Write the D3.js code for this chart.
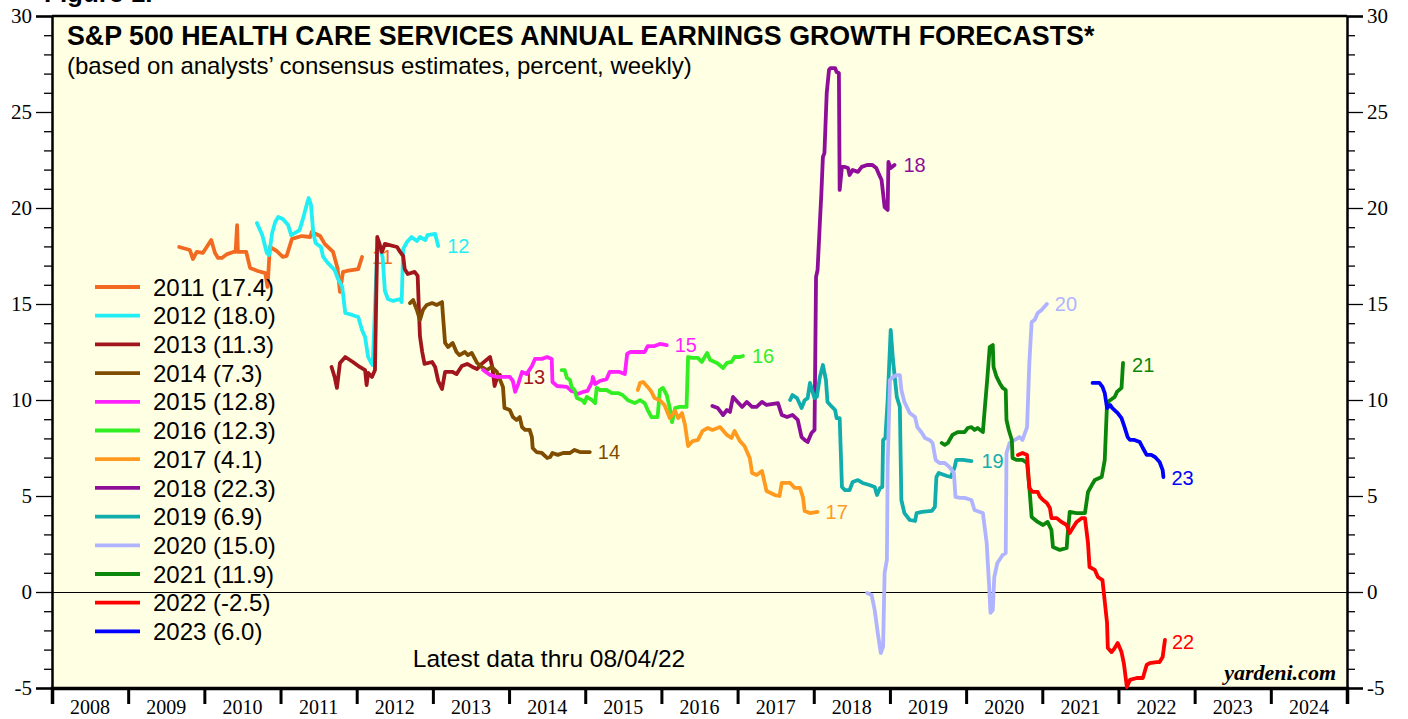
<!DOCTYPE html>
<html>
<head>
<meta charset="utf-8">
<script src="https://cdn.jsdelivr.net/npm/d3@7"></script>
<style>
  body { margin: 0; background: #fff; }
  svg { display: block; }
</style>
</head>
<body>
<svg id="chart" width="1408" height="719"></svg>
<script>
// forecast year of each series, in drawing order
var forecastYears = [2011, 2012, 2013, 2014, 2015, 2016, 2017, 2018, 2019, 2020, 2021, 2022, 2023];
var latestValues = [17.4, 18.0, 11.3, 7.3, 12.8, 12.3, 4.1, 22.3, 6.9, 15.0, 11.9, -2.5, 6.0];
var yearTicks = d3.range(2008, 2025);

// weekly consensus series, [date as decimal year, percent]
var f2011 = [[2009.67,17.97],[2009.81,17.81],[2009.85,17.34],[2009.90,17.71],[2009.98,17.66],[2010.09,18.33],[2010.14,17.66],[2010.18,17.40],[2010.23,17.40],[2010.30,17.60],[2010.38,17.71],[2010.41,17.71],[2010.43,19.11],[2010.44,17.71],[2010.55,17.71],[2010.60,16.88],[2010.70,16.72],[2010.80,16.61],[2010.83,15.89],[2010.86,17.97],[2010.95,17.76],[2011.03,17.45],[2011.08,17.50],[2011.15,18.39],[2011.28,18.54],[2011.39,18.49],[2011.41,18.75],[2011.52,18.54],[2011.58,18.13],[2011.69,17.71],[2011.75,16.83],[2011.78,15.63],[2011.82,16.67],[2011.87,16.72],[2012.02,16.82],[2012.07,17.45]];
var f2012 = [[2010.69,19.22],[2010.76,18.59],[2010.82,17.66],[2010.85,17.55],[2010.89,18.70],[2010.93,19.27],[2010.97,19.53],[2011.03,19.43],[2011.10,19.11],[2011.14,18.59],[2011.19,18.70],[2011.25,18.85],[2011.29,19.38],[2011.35,20.26],[2011.37,20.52],[2011.40,20.16],[2011.43,18.70],[2011.46,18.18],[2011.53,17.97],[2011.56,17.45],[2011.62,17.14],[2011.71,16.77],[2011.75,16.35],[2011.81,15.89],[2011.85,14.53],[2011.94,14.43],[2012.02,14.32],[2012.07,13.65],[2012.11,13.28],[2012.15,12.24],[2012.19,11.93],[2012.21,11.82],[2012.27,17.87],[2012.30,17.97],[2012.34,17.45],[2012.37,15.68],[2012.41,15.26],[2012.48,15.16],[2012.57,15.26],[2012.59,15.10],[2012.61,17.87],[2012.66,18.23],[2012.72,18.49],[2012.79,18.28],[2012.83,18.49],[2012.90,18.33],[2012.93,18.59],[2013.03,18.65],[2013.07,18.02]];
var f2013 = [[2011.67,11.72],[2011.71,11.20],[2011.74,10.63],[2011.78,11.93],[2011.85,12.24],[2011.95,11.98],[2012.04,11.72],[2012.11,11.56],[2012.13,10.78],[2012.15,11.41],[2012.20,11.20],[2012.24,11.56],[2012.27,18.49],[2012.30,18.13],[2012.33,17.71],[2012.37,18.13],[2012.53,17.97],[2012.57,17.71],[2012.61,17.50],[2012.63,16.82],[2012.67,16.56],[2012.76,16.67],[2012.80,16.46],[2012.83,13.33],[2012.86,12.50],[2012.89,11.88],[2012.99,11.98],[2013.03,11.72],[2013.07,10.99],[2013.12,10.57],[2013.16,11.46],[2013.26,11.46],[2013.31,11.35],[2013.38,11.77],[2013.45,11.88],[2013.52,11.72],[2013.58,11.61],[2013.64,11.88],[2013.75,12.24],[2013.78,11.72],[2013.81,10.73],[2013.85,11.25],[2013.88,11.30]];
var f2014 = [[2012.70,15.05],[2012.74,15.21],[2012.79,14.69],[2012.83,14.17],[2012.87,14.69],[2012.92,14.95],[2012.99,15.05],[2013.05,14.95],[2013.12,15.10],[2013.13,14.53],[2013.16,12.97],[2013.20,12.76],[2013.26,12.97],[2013.31,12.50],[2013.35,12.34],[2013.42,12.50],[2013.46,12.34],[2013.51,12.45],[2013.58,11.93],[2013.64,11.72],[2013.71,11.56],[2013.77,11.72],[2013.84,11.46],[2013.92,10.68],[2013.94,9.58],[2014.01,9.48],[2014.05,9.11],[2014.10,8.96],[2014.14,9.11],[2014.17,8.59],[2014.21,8.44],[2014.27,8.44],[2014.30,8.07],[2014.31,7.50],[2014.36,7.29],[2014.43,7.24],[2014.50,6.98],[2014.54,7.03],[2014.57,7.24],[2014.64,7.14],[2014.71,7.24],[2014.80,7.24],[2014.86,7.40],[2014.93,7.29],[2015.06,7.29]];
var f2015 = [[2013.66,11.56],[2013.75,11.30],[2013.84,11.20],[2013.91,11.20],[2014.01,11.20],[2014.05,10.99],[2014.08,10.42],[2014.12,10.83],[2014.17,11.46],[2014.23,11.35],[2014.30,11.77],[2014.34,12.14],[2014.43,12.14],[2014.50,12.24],[2014.56,12.14],[2014.57,10.94],[2014.63,10.73],[2014.76,10.68],[2014.82,10.47],[2014.86,10.42],[2014.90,10.31],[2014.97,10.42],[2015.03,10.47],[2015.09,10.94],[2015.10,11.20],[2015.13,10.83],[2015.19,10.99],[2015.28,11.09],[2015.32,11.46],[2015.45,11.46],[2015.52,11.35],[2015.55,12.40],[2015.59,12.50],[2015.78,12.50],[2015.82,12.81],[2015.91,12.81],[2015.98,12.92],[2016.07,12.86]];
var f2016 = [[2014.69,11.56],[2014.73,11.56],[2014.76,11.15],[2014.80,11.04],[2014.82,10.68],[2014.86,10.52],[2014.89,10.10],[2014.96,9.99],[2014.99,9.84],[2015.02,10.16],[2015.09,9.99],[2015.13,9.84],[2015.15,10.63],[2015.19,10.52],[2015.28,10.52],[2015.35,10.36],[2015.43,10.36],[2015.49,10.26],[2015.56,9.99],[2015.65,9.84],[2015.72,9.99],[2015.78,9.84],[2015.82,9.48],[2015.87,9.11],[2015.95,9.11],[2015.98,10.52],[2016.02,10.63],[2016.07,10.26],[2016.11,9.58],[2016.14,8.85],[2016.18,9.58],[2016.24,9.64],[2016.33,9.64],[2016.35,12.24],[2016.40,12.19],[2016.48,12.19],[2016.53,11.98],[2016.60,12.45],[2016.64,12.08],[2016.73,11.93],[2016.81,11.67],[2016.86,11.93],[2016.92,11.98],[2016.96,12.24],[2017.03,12.24],[2017.07,12.29]];
var f2017 = [[2015.69,10.52],[2015.72,10.89],[2015.76,10.94],[2015.82,10.68],[2015.87,10.42],[2015.91,10.10],[2015.98,9.99],[2016.04,9.74],[2016.11,9.06],[2016.18,9.43],[2016.22,9.06],[2016.27,9.32],[2016.31,8.70],[2016.35,7.60],[2016.41,7.86],[2016.48,7.92],[2016.54,8.39],[2016.61,8.54],[2016.67,8.44],[2016.77,8.59],[2016.86,8.18],[2016.92,8.02],[2016.96,8.39],[2017.03,7.86],[2017.09,7.60],[2017.16,6.98],[2017.19,6.20],[2017.25,6.09],[2017.32,6.30],[2017.38,5.26],[2017.49,5.05],[2017.55,5.00],[2017.58,5.68],[2017.69,5.68],[2017.75,5.42],[2017.82,5.42],[2017.86,4.90],[2017.88,4.22],[2017.95,4.11],[2018.05,4.17]];
var f2018 = [[2016.67,9.69],[2016.74,9.58],[2016.81,9.22],[2016.86,9.48],[2016.90,9.38],[2016.94,10.16],[2017.00,9.90],[2017.06,9.64],[2017.12,9.90],[2017.19,9.64],[2017.25,9.64],[2017.32,9.90],[2017.38,9.74],[2017.53,9.84],[2017.58,9.22],[2017.65,9.11],[2017.72,9.22],[2017.79,8.96],[2017.84,8.07],[2017.88,7.92],[2017.92,7.81],[2017.97,8.28],[2018.01,8.44],[2018.03,16.41],[2018.05,16.77],[2018.08,19.22],[2018.10,20.78],[2018.12,22.66],[2018.14,22.86],[2018.17,25.99],[2018.20,27.19],[2018.22,27.29],[2018.28,27.29],[2018.30,27.08],[2018.33,27.03],[2018.34,20.94],[2018.37,22.14],[2018.41,22.14],[2018.45,22.08],[2018.47,21.72],[2018.51,21.98],[2018.58,21.88],[2018.63,22.14],[2018.70,22.24],[2018.77,22.24],[2018.82,22.08],[2018.86,21.72],[2018.89,21.46],[2018.93,20.05],[2018.97,19.90],[2018.98,22.40],[2019.01,22.08],[2019.06,22.24]];
var f2019 = [[2017.69,10.00],[2017.72,10.26],[2017.78,10.10],[2017.84,9.58],[2017.88,9.99],[2017.92,10.10],[2017.95,10.89],[2017.99,10.36],[2018.01,10.10],[2018.04,10.16],[2018.08,11.20],[2018.12,11.82],[2018.16,11.04],[2018.18,9.90],[2018.24,9.64],[2018.28,9.48],[2018.30,9.06],[2018.34,9.06],[2018.37,5.47],[2018.41,5.31],[2018.47,5.31],[2018.51,5.73],[2018.58,5.83],[2018.64,5.68],[2018.73,5.57],[2018.80,5.47],[2018.83,5.05],[2018.87,5.42],[2018.90,5.47],[2018.91,7.92],[2018.94,8.02],[2018.97,9.99],[2019.01,13.65],[2019.04,12.08],[2019.09,10.16],[2019.13,9.64],[2019.15,4.79],[2019.19,4.11],[2019.26,3.75],[2019.33,3.70],[2019.35,4.11],[2019.42,4.17],[2019.55,4.22],[2019.59,4.43],[2019.61,5.99],[2019.64,6.20],[2019.75,6.04],[2019.80,5.99],[2019.85,6.51],[2019.87,6.88],[2019.96,6.88],[2020.07,6.82]];
var f2020 = [[2018.70,-0.05],[2018.76,-0.16],[2018.80,-0.94],[2018.84,-2.14],[2018.88,-3.18],[2018.91,-2.86],[2018.93,0.99],[2018.96,1.67],[2018.97,6.51],[2019.00,11.04],[2019.04,11.20],[2019.09,11.30],[2019.13,11.30],[2019.15,10.52],[2019.19,9.90],[2019.26,9.32],[2019.33,9.11],[2019.36,8.59],[2019.42,8.28],[2019.46,8.02],[2019.52,7.92],[2019.56,7.76],[2019.60,6.88],[2019.65,6.72],[2019.72,6.72],[2019.78,6.51],[2019.84,6.20],[2019.86,4.95],[2019.92,4.90],[2019.98,4.90],[2020.07,4.79],[2020.11,4.27],[2020.18,4.17],[2020.22,4.11],[2020.27,2.55],[2020.30,0.47],[2020.32,-1.09],[2020.35,-0.94],[2020.37,0.78],[2020.41,1.51],[2020.48,1.93],[2020.52,2.03],[2020.53,7.24],[2020.57,7.76],[2020.64,7.92],[2020.70,8.07],[2020.74,7.92],[2020.80,8.59],[2020.83,11.93],[2020.86,14.06],[2020.90,14.17],[2020.94,14.53],[2020.99,14.69],[2021.06,15.00]];
var f2021 = [[2019.68,7.76],[2019.72,7.66],[2019.76,7.76],[2019.82,8.18],[2019.89,8.33],[2019.98,8.33],[2020.02,8.54],[2020.07,8.59],[2020.11,8.44],[2020.15,8.54],[2020.22,8.33],[2020.24,9.32],[2020.28,11.20],[2020.31,12.76],[2020.35,12.86],[2020.36,11.72],[2020.40,11.20],[2020.44,10.89],[2020.48,10.63],[2020.52,10.52],[2020.53,8.96],[2020.56,8.44],[2020.60,7.92],[2020.61,6.98],[2020.66,6.88],[2020.74,6.88],[2020.80,6.72],[2020.83,5.47],[2020.86,3.91],[2020.94,3.65],[2021.01,3.49],[2021.07,3.65],[2021.12,3.23],[2021.14,2.34],[2021.23,2.19],[2021.32,2.29],[2021.33,2.86],[2021.36,4.17],[2021.45,4.11],[2021.56,4.11],[2021.60,5.21],[2021.65,5.57],[2021.69,5.83],[2021.78,5.99],[2021.82,6.88],[2021.85,9.84],[2021.89,9.99],[2021.95,10.16],[2021.98,10.42],[2022.04,10.63],[2022.06,11.93]];
var f2022 = [[2020.68,7.14],[2020.74,7.24],[2020.80,7.14],[2020.81,6.51],[2020.83,5.42],[2020.87,5.21],[2020.94,5.21],[2020.97,4.95],[2021.01,4.79],[2021.06,4.64],[2021.10,4.38],[2021.12,3.85],[2021.19,3.85],[2021.25,3.65],[2021.32,3.49],[2021.36,3.07],[2021.40,3.33],[2021.45,3.65],[2021.52,3.85],[2021.56,3.85],[2021.60,2.55],[2021.62,1.30],[2021.69,1.15],[2021.73,0.78],[2021.79,0.62],[2021.85,-1.61],[2021.86,-2.92],[2021.91,-3.13],[2021.95,-2.92],[2021.99,-2.66],[2022.04,-3.13],[2022.07,-3.70],[2022.11,-4.95],[2022.15,-4.58],[2022.24,-4.48],[2022.32,-4.48],[2022.37,-3.80],[2022.41,-3.70],[2022.50,-3.65],[2022.54,-3.65],[2022.58,-3.39],[2022.61,-2.50]];
var f2023 = [[2021.66,10.89],[2021.75,10.89],[2021.79,10.68],[2021.82,10.36],[2021.85,9.58],[2021.89,9.74],[2021.92,9.58],[2021.99,9.32],[2022.04,9.06],[2022.08,8.59],[2022.12,8.07],[2022.15,7.92],[2022.21,7.92],[2022.28,7.81],[2022.32,7.50],[2022.37,7.14],[2022.43,7.14],[2022.48,7.03],[2022.54,6.77],[2022.58,6.35],[2022.59,5.99]];

var seriesData = [f2011, f2012, f2013, f2014, f2015, f2016, f2017, f2018, f2019, f2020, f2021, f2022, f2023];
var colors = ["#F26A21", "#22EEF5", "#A0161C", "#7F4C00", "#FF22FF", "#33EE22", "#FF9A1E",
              "#8E0E99", "#11ADAD", "#B0B4FF", "#0A860A", "#FF0000", "#0000FF"];
// end label nudges in px (label text is year mod 100)
var labelDx = [10, 9, 23, 8, 8, 9, 8, 9, 10, 8, 9, 7, 8];
var labelDy = [0, 0, 2, 0, 0, 0, 0, 0, 0, 0, 2, 2, 1];

var margin = {left: 52, right: 61, top: 16, bottom: 31};
var width = 1408, height = 719;
var svg = d3.select("#chart");

var x = d3.scaleLinear().domain([2008, 2025]).range([margin.left, width - margin.right]);
var y = d3.scaleLinear().domain([-5, 30]).range([height - margin.bottom, margin.top]);

var sansFont = "Liberation Sans, Arial, Helvetica, sans-serif";
var serifFont = "Liberation Serif, Times New Roman, serif";

// "Figure" caption, cut off at the top of the image like the original
svg.append("text")
    .attr("x", 44).attr("y", 2)
    .attr("font-family", sansFont)
    .attr("font-weight", "bold").attr("font-size", 26)
    .text("Figure 1.");

svg.append("rect")
    .attr("x", x(2008)).attr("y", y(30))
    .attr("width", x(2025) - x(2008)).attr("height", y(-5) - y(30))
    .attr("fill", "#FFFFE3");

// zero line
svg.append("line")
    .attr("x1", x(2008)).attr("x2", x(2025))
    .attr("y1", y(0) + 0.5).attr("y2", y(0) + 0.5)
    .attr("stroke", "#000").attr("stroke-width", 1);

// y axes, majors every 5, minors every 1
function yAxis(g, side) {
    var major = side === "left" ? d3.axisLeft(y) : d3.axisRight(y);
    major.tickValues(d3.range(-5, 31, 5)).tickSize(16).tickPadding(4)
        .tickFormat(function(d) { return String(d); });
    g.call(major);
    var minor = side === "left" ? d3.axisLeft(y) : d3.axisRight(y);
    minor.tickValues(d3.range(-5, 31, 1).filter(function(d) { return d % 5 !== 0; }))
        .tickSize(8).tickFormat("");
    g.append("g").call(minor).select(".domain").remove();
    g.selectAll("text")
        .attr("font-family", serifFont)
        .attr("font-size", 21).attr("fill", "#000");
    g.selectAll("line").attr("stroke-width", 1.3);
    g.selectAll(".domain").attr("stroke-width", 2.5);
}
svg.append("g").attr("transform", "translate(" + x(2008) + ",0)").call(yAxis, "left");
svg.append("g").attr("transform", "translate(" + x(2025) + ",0)").call(yAxis, "right");

// top border
svg.append("line")
    .attr("x1", x(2008)).attr("x2", x(2025))
    .attr("y1", y(30)).attr("y2", y(30))
    .attr("stroke", "#000").attr("stroke-width", 2.5);

// x axis: ticks at year boundaries, labels mid year
var xAxisG = svg.append("g").attr("transform", "translate(0," + y(-5) + ")");
xAxisG.call(d3.axisBottom(x).tickValues(d3.range(2008, 2026)).tickSize(16).tickFormat(""));
xAxisG.selectAll(".tick line").attr("stroke-width", 3);
xAxisG.select(".domain").attr("stroke-width", 3.5);
xAxisG.selectAll(".yearLabel")
    .data(yearTicks)
    .enter().append("text")
    .attr("class", "yearLabel")
    .attr("x", function(d) { return x(d + 0.5); })
    .attr("y", 26)
    .attr("text-anchor", "middle")
    .attr("fill", "#000")
    .attr("font-family", serifFont)
    .attr("font-size", 20)
    .text(function(d) { return d; });

var line = d3.line()
    .x(function(d) { return x(d[0]); })
    .y(function(d) { return y(d[1]); });

seriesData.forEach(function(data, i) {
    var g = svg.append("g");
    var last = data[data.length - 1];
    g.append("text")
        .attr("x", x(last[0]) + labelDx[i])
        .attr("y", y(last[1]) + labelDy[i])
        .attr("dy", "0.35em")
        .attr("font-family", sansFont).attr("font-size", 20)
        .attr("fill", colors[i])
        .text(String(forecastYears[i] % 100));
    g.append("path")
        .datum(data)
        .attr("d", line)
        .attr("fill", "none")
        .attr("stroke", colors[i])
        .attr("stroke-width", 3.8)
        .attr("stroke-linejoin", "round")
        .attr("stroke-linecap", "round");
});

// legend
var legend = svg.append("g").attr("transform", "translate(95,287)");
var rows = legend.selectAll("g")
    .data(forecastYears)
    .enter().append("g")
    .attr("transform", function(d, i) { return "translate(0," + (i * 28.7) + ")"; });
rows.append("line")
    .attr("x1", 0).attr("x2", 45)
    .attr("stroke", function(d, i) { return colors[i]; })
    .attr("stroke-width", 3.8);
rows.append("text")
    .attr("x", 58).attr("dy", "0.36em")
    .attr("font-family", sansFont).attr("font-size", 24)
    .text(function(d, i) {
        return d + " (" + latestValues[i].toFixed(1) + ")";
    });

// titles
svg.append("text")
    .attr("x", 67).attr("y", 45)
    .attr("font-family", sansFont).attr("font-weight", "bold").attr("font-size", 26.8)
    .text("S&P 500 HEALTH CARE SERVICES ANNUAL EARNINGS GROWTH FORECASTS*");
svg.append("text")
    .attr("x", 67).attr("y", 74)
    .attr("font-family", sansFont).attr("font-size", 24)
    .text("(based on analysts\u2019 consensus estimates, percent, weekly)");

svg.append("text")
    .attr("x", 549).attr("y", 667)
    .attr("text-anchor", "middle")
    .attr("font-family", sansFont).attr("font-size", 24.5)
    .text("Latest data thru 08/04/22");

svg.append("text")
    .attr("x", 1336).attr("y", 680)
    .attr("text-anchor", "end")
    .attr("font-family", serifFont)
    .attr("font-weight", "bold").attr("font-style", "italic").attr("font-size", 22)
    .text("yardeni.com");
</script>
</body>
</html>
